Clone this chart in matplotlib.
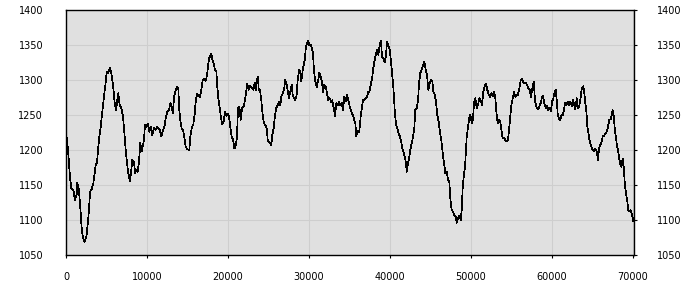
import matplotlib
matplotlib.use("Agg")
import matplotlib.pyplot as plt

# sample position (x) and value (y)
positions = [
    0, 90, 250, 370, 490, 650, 900, 1110, 1320, 1400,
    1570, 1640, 1810, 1940, 2100, 2310, 2510, 2630, 2840, 2960,
    3170, 3370, 3540, 3670, 3830, 3950, 4110, 4280, 4440, 4600,
    4780, 4940, 5020, 5190, 5400, 5560, 5720, 5890, 6010, 6170,
    6330, 6460, 6630, 6830, 7040, 7200, 7370, 7530, 7690, 7900,
    8060, 8190, 8400, 8520, 8680, 8850, 9010, 9170, 9350, 9510,
    9630, 9750, 9910, 10120, 10280, 10460, 10650, 10860, 11070, 11270,
    11570, 11770, 11980, 12190, 12350, 12510, 12720, 12880, 13050, 13210,
    13330, 13490, 13700, 13860, 13990, 14160, 14280, 14440, 14600, 14780,
    14980, 15220, 15350, 15520, 15720, 15890, 16010, 16170, 16330, 16540,
    16700, 16880, 17040, 17250, 17410, 17530, 17650, 17810, 17940, 18060,
    18230, 18400, 18560, 18680, 18800, 18980, 19140, 19300, 19470, 19630,
    19790, 19960, 20120, 20280, 20460, 20620, 20780, 20950, 21110, 21230,
    21400, 21570, 21730, 21940, 22100, 22220, 22380, 22560, 22720, 22880,
    23120, 23300, 23460, 23580, 23700, 23790, 23950, 24110, 24280, 24440,
    24600, 24780, 24900, 25060, 25220, 25350, 25430, 25640, 25800, 25960,
    26140, 26300, 26460, 26580, 26750, 26910, 27070, 27250, 27410, 27530,
    27690, 27860, 27990, 28150, 28310, 28480, 28600, 28770, 28930, 29050,
    29220, 29380, 29510, 29590, 29750, 29910, 30040, 30210, 30370, 30490,
    30620, 30780, 30950, 31110, 31270, 31440, 31600, 31730, 31890, 32060,
    32220, 32380, 32560, 32720, 32880, 33050, 33210, 33370, 33540, 33700,
    33860, 34040, 34200, 34360, 34530, 34690, 34900, 35060, 35220, 35400,
    35560, 35720, 35840, 36010, 36210, 36380, 36540, 36670, 36830, 37000,
    37160, 37320, 37440, 37620, 37780, 37940, 38110, 38270, 38430, 38560,
    38730, 38890, 39010, 39170, 39350, 39510, 39630, 39790, 39960, 40120,
    40280, 40410, 40580, 40740, 40900, 41070, 41230, 41400, 41570, 41730,
    41850, 41980, 42060, 42190, 42350, 42510, 42680, 42840, 43000, 43120,
    43300, 43460, 43580, 43740, 43910, 44070, 44230, 44410, 44570, 44730,
    44900, 45060, 45220, 45350, 45520, 45680, 45840, 46010, 46170, 46330,
    46510, 46670, 46830, 47000, 47160, 47320, 47440, 47620, 47780, 47940,
    48110, 48230, 48400, 48560, 48730, 48850, 48980, 49140, 49260, 49380,
    49470, 49590, 49720, 49840, 49960, 50120, 50250, 50370, 50530, 50700,
    50860, 51020, 51200, 51360, 51520, 51690, 51850, 52010, 52190, 52350,
    52510, 52680, 52840, 53000, 53120, 53300, 53460, 53620, 53740, 53910,
    54070, 54230, 54410, 54570, 54690, 54850, 54980, 55150, 55310, 55470,
    55640, 55800, 55960, 56140, 56260, 56420, 56580, 56750, 56910, 57070,
    57250, 57410, 57570, 57740, 57900, 58110, 58270, 58430, 58600, 58770,
    58890, 59050, 59220, 59380, 59540, 59720, 59880, 60000, 60160, 60330,
    60460, 60580, 60700, 60860, 60990, 61150, 61320, 61480, 61600, 61770,
    61940, 62100, 62260, 62430, 62590, 62750, 62880, 63050, 63210, 63370,
    63540, 63670, 63830, 63950, 64070, 64230, 64360, 64530, 64690, 64850,
    65020, 65190, 65350, 65520, 65680, 65800, 65960, 66140, 66260, 66420,
    66580, 66750, 66910, 67070, 67250, 67370, 67490, 67620, 67740, 67900,
    68020, 68150, 68270, 68400, 68560, 68730, 68850, 68980, 69140, 69300,
    69420, 69590, 69720, 69880, 70040,
]

values = [
    1218, 1217, 1200, 1181, 1162, 1145, 1143, 1129, 1136, 1153,
    1145, 1136, 1110, 1088, 1074, 1069, 1076, 1088, 1114, 1140,
    1144, 1152, 1167, 1179, 1181, 1200, 1219, 1233, 1250, 1267,
    1286, 1300, 1312, 1310, 1317, 1312, 1300, 1283, 1267, 1257,
    1271, 1281, 1264, 1260, 1248, 1224, 1200, 1181, 1167, 1155,
    1171, 1186, 1183, 1167, 1171, 1169, 1183, 1210, 1198, 1207,
    1214, 1236, 1233, 1238, 1226, 1233, 1221, 1231, 1229, 1233,
    1229, 1220, 1228, 1236, 1248, 1255, 1257, 1267, 1262, 1252,
    1276, 1283, 1290, 1288, 1257, 1238, 1231, 1229, 1219, 1205,
    1201, 1200, 1219, 1232, 1237, 1252, 1269, 1280, 1277, 1276,
    1286, 1300, 1302, 1299, 1307, 1319, 1331, 1334, 1337, 1329,
    1324, 1314, 1312, 1290, 1274, 1260, 1245, 1237, 1241, 1255,
    1249, 1252, 1248, 1233, 1219, 1215, 1202, 1206, 1219, 1260,
    1262, 1243, 1260, 1263, 1271, 1281, 1295, 1286, 1291, 1290,
    1286, 1296, 1286, 1300, 1304, 1286, 1286, 1271, 1250, 1238,
    1236, 1231, 1214, 1212, 1210, 1207, 1219, 1231, 1250, 1260,
    1264, 1269, 1264, 1276, 1281, 1286, 1300, 1293, 1281, 1274,
    1283, 1293, 1279, 1274, 1271, 1279, 1300, 1314, 1312, 1298,
    1314, 1324, 1331, 1345, 1352, 1356, 1350, 1350, 1345, 1338,
    1312, 1298, 1290, 1298, 1310, 1305, 1298, 1283, 1293, 1291,
    1281, 1271, 1274, 1269, 1271, 1260, 1249, 1267, 1264, 1269,
    1264, 1267, 1257, 1276, 1270, 1279, 1269, 1260, 1255, 1250,
    1244, 1238, 1220, 1227, 1226, 1248, 1262, 1271, 1271, 1274,
    1276, 1283, 1283, 1293, 1302, 1317, 1329, 1338, 1343, 1336,
    1350, 1356, 1333, 1331, 1325, 1336, 1355, 1350, 1343, 1326,
    1307, 1290, 1257, 1236, 1231, 1224, 1219, 1210, 1200, 1195,
    1188, 1181, 1169, 1179, 1188, 1200, 1210, 1219, 1231, 1258,
    1260, 1271, 1295, 1310, 1315, 1320, 1326, 1315, 1307, 1286,
    1295, 1300, 1298, 1283, 1279, 1269, 1250, 1240, 1225, 1214,
    1195, 1181, 1167, 1169, 1157, 1155, 1131, 1114, 1112, 1107,
    1105, 1096, 1102, 1106, 1100, 1114, 1148, 1167, 1176, 1200,
    1219, 1229, 1240, 1250, 1247, 1238, 1245, 1267, 1274, 1260,
    1264, 1274, 1271, 1264, 1283, 1291, 1295, 1286, 1279, 1276,
    1281, 1277, 1283, 1274, 1255, 1238, 1243, 1240, 1229, 1217,
    1218, 1214, 1212, 1214, 1229, 1249, 1264, 1274, 1283, 1276,
    1279, 1279, 1288, 1300, 1302, 1298, 1295, 1296, 1293, 1288,
    1286, 1276, 1288, 1298, 1270, 1260, 1258, 1262, 1267, 1276,
    1277, 1267, 1260, 1263, 1257, 1260, 1255, 1269, 1274, 1283,
    1286, 1271, 1252, 1244, 1242, 1249, 1250, 1257, 1267, 1264,
    1269, 1264, 1269, 1263, 1271, 1264, 1258, 1274, 1260, 1263,
    1276, 1288, 1291, 1286, 1271, 1257, 1233, 1221, 1210, 1205,
    1200, 1198, 1202, 1198, 1185, 1202, 1207, 1212, 1220, 1220,
    1224, 1226, 1233, 1243, 1244, 1250, 1257, 1249, 1231, 1217,
    1205, 1200, 1190, 1181, 1176, 1188, 1176, 1152, 1138, 1126,
    1114, 1112, 1114, 1107, 1098,
]

x_ticks = [0, 10000, 20000, 30000, 40000, 50000, 60000, 70000]
y_ticks = [1050, 1100, 1150, 1200, 1250, 1300, 1350, 1400]
x_max = 70120


def draw():
    fig = plt.figure(figsize=(7, 3), dpi=100)
    ax = fig.add_axes([66 / 700, 45 / 300, 568 / 700, 245 / 300])
    ax.set_facecolor("#e0e0e0")

    ax.plot(positions, values, color="black", linewidth=0.5, antialiased=False)

    ax.set_xlim(0, x_max)
    ax.set_ylim(y_ticks[0], y_ticks[-1])
    ax.set_xticks(x_ticks)
    ax.set_yticks(y_ticks)
    ax.set_xticklabels([str(t) for t in x_ticks])
    ax.set_yticklabels([str(t) for t in y_ticks])

    ax.grid(True, color="#cecece", linewidth=0.8)
    ax.set_axisbelow(True)

    # labels on both sides, tick marks only on the right and bottom
    ax.tick_params(axis="y", left=False, right=True, labelleft=True,
                   labelright=True, length=2, pad=14.5, labelsize=7)
    ax.tick_params(axis="x", length=2, pad=10, labelsize=7)

    for side in ax.spines.values():
        side.set_color("black")
        side.set_linewidth(1.0)

    fig.savefig("out.png", dpi=100)


if __name__ == "__main__":
    draw()
